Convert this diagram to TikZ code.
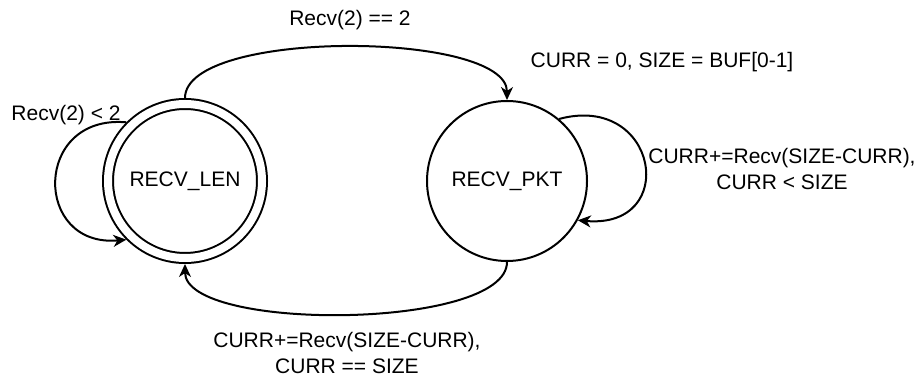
\documentclass[tikz,border=0pt]{standalone}
\usepackage{fontspec}
\setmainfont{Liberation Sans}
\usetikzlibrary{arrows.meta}

\begin{document}
\begin{tikzpicture}[x=0.5pt, y=0.5pt, >={Stealth[length=6.5pt, width=6pt, inset=2pt]},
  every node/.style={font=\fontsize{10.5}{12.8}\selectfont},
  state/.style={circle, draw, line width=1pt, minimum size=80pt, inner sep=0pt},
  accepting/.style={circle, draw, line width=1pt, double, double distance=4pt, minimum size=77pt, inner sep=0pt, outer sep=3pt},
  trans/.style={->, line width=1pt}]
  \useasboundingbox (0,0) rectangle (919,-378);
  \node[accepting] (len) at (185,-181) {RECV\_LEN};
  \node[state] (pkt) at (507,-181) {RECV\_PKT};
  \node (lenok) at (350,-20) {Recv(2) == 2};
  \node (pktinit) at (662,-62) {CURR = 0, SIZE = BUF[0-1]};
  \node (lenwait) at (66,-115) {Recv(2) < 2};
  \node[align=center] (pktwait) at (782,-169) {CURR+=Recv(SIZE-CURR),\\CURR < SIZE};
  \node[align=center] (pktdone) at (347,-353) {CURR+=Recv(SIZE-CURR),\\CURR == SIZE};
  \draw[trans] (len.north) to[out=90, in=90, looseness=0.55] (pkt.north);
  \draw[trans] (pkt.south) to[out=-90, in=-90, looseness=0.54] (len.south);
  \draw[trans] (len.135) to[out=175, in=185, looseness=2.05] (len.225);
  \draw[trans] (pkt.50) to[out=15, in=-5, looseness=2.55] (pkt.-29);
\end{tikzpicture}
\end{document}
